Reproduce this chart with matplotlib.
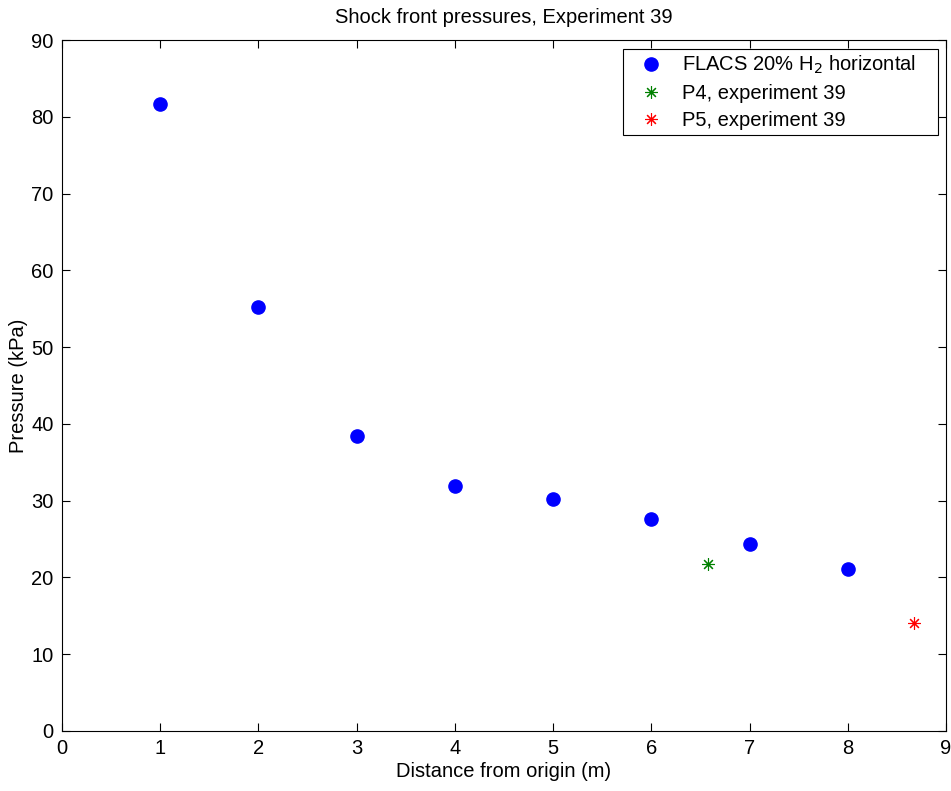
import matplotlib
matplotlib.use("Agg")
import matplotlib.pyplot as plt

# Shock front pressure data
flacs_distance = [1, 2, 3, 4, 5, 6, 7, 8]
flacs_pressure = [81.7, 55.2, 38.4, 31.9, 30.2, 27.6, 24.4, 21.1]
p4_distance = [6.58]
p4_pressure = [21.7]
p5_distance = [8.67]
p5_pressure = [14.1]

plt.rcParams['font.family'] = ['Liberation Sans', 'DejaVu Sans']
plt.rcParams['font.size'] = 14.5

fig = plt.figure(figsize=(9.51, 7.91), dpi=100)
ax = fig.add_axes([0.065, 0.0759, 0.9298, 0.8735])

asterisk = (8, 2, 0)
ax.plot(flacs_distance, flacs_pressure, marker='o', color='#0000ff',
        markersize=9.5, linestyle='none', label='FLACS 20% H$_2$ horizontal')
ax.plot(p4_distance, p4_pressure, marker=asterisk, color='#008000',
        markersize=9, markeredgewidth=0.8, linestyle='none',
        label='P4, experiment 39')
ax.plot(p5_distance, p5_pressure, marker=asterisk, color='#ff0000',
        markersize=9, markeredgewidth=0.8, linestyle='none',
        label='P5, experiment 39')

ax.set_xlim(0, 9)
ax.set_ylim(0, 90)
ax.set_xticks(range(0, 10))
ax.set_yticks(range(0, 100, 10))
ax.tick_params(direction='in', top=True, right=True, length=6, width=0.8,
               pad=6)
for s in ax.spines.values():
    s.set_linewidth(0.8)

ax.set_title('Shock front pressures, Experiment 39', fontsize=14.5, pad=12)
ax.set_xlabel('Distance from origin (m)', labelpad=3)
ax.set_ylabel('Pressure (kPa)', labelpad=2)

leg = ax.legend(loc='upper right', bbox_to_anchor=(0.6346, 0.5, 0.3564, 0.487),
                mode='expand', fancybox=False, edgecolor='black',
                framealpha=1, borderaxespad=0, handlelength=2.3,
                handletextpad=0.4, labelspacing=0.4, borderpad=0.25)
leg.get_frame().set_linewidth(0.8)

fig.savefig('out.png', dpi=100)
